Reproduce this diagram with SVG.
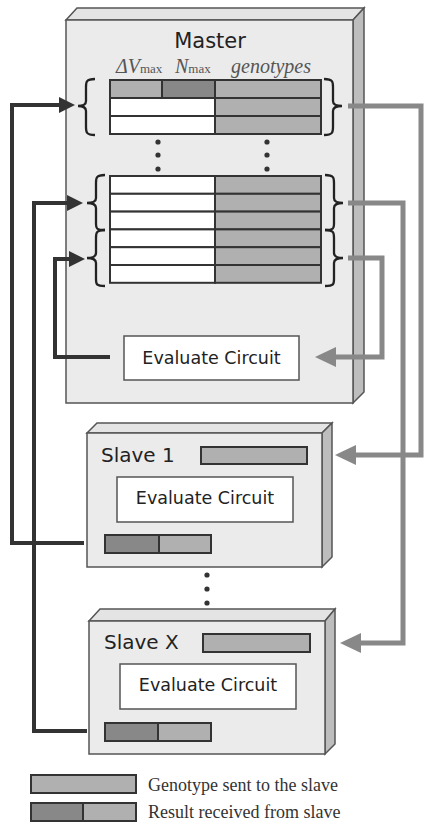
<svg xmlns="http://www.w3.org/2000/svg" width="425" height="823" viewBox="0 0 425 823">
<style>
.face{fill:#ebebeb;stroke:#555;stroke-width:1.5}
.top{fill:#e4e4e4;stroke:#555;stroke-width:1.5}
.side{fill:#bdbdbd;stroke:#555;stroke-width:1.5}
.cell{stroke:#333;stroke-width:2}
.w{fill:#fff}
.g{fill:#b0b0b0}
.d{fill:#888}
.box{fill:#fff;stroke:#555;stroke-width:1.5}
.brace{fill:none;stroke:#222;stroke-width:2.3}
.lbl{font-family:"DejaVu Sans",sans-serif;fill:#222}
.hdr{font-family:"Liberation Serif",serif;font-style:italic;fill:#555}
.leg{font-family:"Liberation Serif",serif;font-size:18px;fill:#333}
.dark{fill:none;stroke:#333;stroke-width:4}
.gray{fill:none;stroke:#888;stroke-width:5}
.dot{fill:#333}
</style>
<defs>
<marker id="ad" markerUnits="userSpaceOnUse" markerWidth="17" markerHeight="16" refX="1" refY="8" orient="auto"><path d="M0,0 L16,8 L0,16 z" fill="#333"/></marker>
<marker id="ag" markerUnits="userSpaceOnUse" markerWidth="22" markerHeight="20" refX="1" refY="10" orient="auto"><path d="M0,0 L21,10 L0,20 z" fill="#888"/></marker>
</defs>

<g id="master">
<polygon class="top" points="66,20 77,8 364,8 353,20"/>
<polygon class="side" points="353,20 364,8 364,392 353,403"/>
<rect class="face" x="66" y="20" width="287" height="383"/>
<text class="lbl" x="210" y="48" font-size="21" text-anchor="middle">Master</text>
<text class="hdr" x="116" y="73" font-size="20">ΔV<tspan font-size="13" font-style="normal">max</tspan></text>
<text class="hdr" x="175" y="73" font-size="20">N<tspan font-size="13" font-style="normal">max</tspan></text>
<text class="hdr" x="231" y="73" font-size="20">genotypes</text>
<g id="table1">
<rect class="cell g" x="110" y="80" width="52" height="18" fill="#a8a8a8"/>
<rect class="cell d" x="162" y="80" width="53" height="18"/>
<rect class="cell g" x="215" y="80" width="106" height="18"/>
<rect class="cell w" x="110" y="98" width="105" height="18"/>
<rect class="cell g" x="215" y="98" width="106" height="18"/>
<rect class="cell w" x="110" y="116" width="105" height="18"/>
<rect class="cell g" x="215" y="116" width="106" height="18"/>
</g>
<path class="brace" d="M95,79 C86,79 86,82 86,87 V101 C86,104 84,106 78,106 C84,106 86,108 86,111 V127 C86,132 86,135 95,135"/>
<path class="brace" d="M324,79 C333,79 333,82 333,87 V101 C333,104 335,106 342,106 C335,106 333,108 333,111 V127 C333,132 333,135 324,135"/>
<circle class="dot" cx="158" cy="142" r="2.6"/>
<circle class="dot" cx="158" cy="155" r="2.6"/>
<circle class="dot" cx="158" cy="169" r="2.6"/>
<circle class="dot" cx="267" cy="142" r="2.6"/>
<circle class="dot" cx="267" cy="155" r="2.6"/>
<circle class="dot" cx="267" cy="169" r="2.6"/>
<g id="table2">
<rect class="cell w" x="110" y="176" width="105" height="17.8"/>
<rect class="cell g" x="215" y="176" width="106" height="17.8"/>
<rect class="cell w" x="110" y="193.8" width="105" height="17.8"/>
<rect class="cell g" x="215" y="193.8" width="106" height="17.8"/>
<rect class="cell w" x="110" y="211.6" width="105" height="17.8"/>
<rect class="cell g" x="215" y="211.6" width="106" height="17.8"/>
<rect class="cell w" x="110" y="229.4" width="105" height="17.8"/>
<rect class="cell g" x="215" y="229.4" width="106" height="17.8"/>
<rect class="cell w" x="110" y="247.2" width="105" height="17.8"/>
<rect class="cell g" x="215" y="247.2" width="106" height="17.8"/>
<rect class="cell w" x="110" y="265" width="105" height="17.8"/>
<rect class="cell g" x="215" y="265" width="106" height="17.8"/>
</g>
<path class="brace" d="M105,175 C96,175 96,178 96,183 V198 C96,201 94,203 87,203 C94,203 96,205 96,208 V224 C96,228 96,230 105,230"/>
<path class="brace" d="M105,230 C96,230 96,233 96,238 V253 C96,256 94,258 87,258 C94,258 96,260 96,263 V279 C96,284 96,286 105,286"/>
<path class="brace" d="M325,175 C334,175 334,178 334,183 V198 C334,201 336,203 343,203 C336,203 334,205 334,208 V224 C334,228 334,230 325,230"/>
<path class="brace" d="M325,230 C334,230 334,233 334,238 V253 C334,256 336,258 343,258 C336,258 334,260 334,263 V279 C334,284 334,286 325,286"/>
<g id="master-eval">
<rect class="box" x="124" y="336" width="175" height="44"/>
<text class="lbl" x="211.5" y="364" font-size="17.5" text-anchor="middle">Evaluate Circuit</text>
</g>
</g>

<g id="slave1">
<polygon class="top" points="87,433 97,423 332,423 322,433"/>
<polygon class="side" points="322,433 332,423 332,557 322,567"/>
<rect class="face" x="87" y="433" width="235" height="134"/>
<text class="lbl" x="101" y="462" font-size="20">Slave 1</text>
<rect class="cell g" x="201" y="447" width="106" height="17"/>
<rect class="box" x="117" y="477" width="176" height="45"/>
<text class="lbl" x="205" y="504" font-size="17.5" text-anchor="middle">Evaluate Circuit</text>
<rect class="cell d" x="105" y="535" width="54" height="18"/>
<rect class="cell g" x="159" y="535" width="52" height="18"/>
</g>

<g id="slave-dots">
<circle class="dot" cx="207" cy="575" r="2.6"/>
<circle class="dot" cx="207" cy="589" r="2.6"/>
<circle class="dot" cx="207" cy="603" r="2.6"/>
</g>

<g id="slaveX">
<polygon class="top" points="89,621 100,609 335,609 325,621"/>
<polygon class="side" points="325,621 335,609 335,744 325,754"/>
<rect class="face" x="89" y="621" width="236" height="133"/>
<text class="lbl" x="104" y="649" font-size="20">Slave X</text>
<rect class="cell g" x="203" y="634" width="107" height="18"/>
<rect class="box" x="120" y="664" width="176" height="45"/>
<text class="lbl" x="208" y="691" font-size="17.5" text-anchor="middle">Evaluate Circuit</text>
<rect class="cell d" x="105" y="723" width="53" height="18"/>
<rect class="cell g" x="158" y="723" width="53" height="18"/>
</g>

<g id="connectors">
<path class="dark" d="M84,543 H12 V105 H60" marker-end="url(#ad)"/>
<path class="dark" d="M87,731 H34 V203 H68" marker-end="url(#ad)"/>
<path class="dark" d="M110,357 H55 V259 H70" marker-end="url(#ad)"/>
<path class="gray" d="M348,106 H421 V455 H355" marker-end="url(#ag)"/>
<path class="gray" d="M348,203 H403 V643 H360" marker-end="url(#ag)"/>
<path class="gray" d="M348,258 H382 V357 H335" marker-end="url(#ag)"/>
</g>

<g id="legend">
<rect class="cell g" x="31" y="775" width="105" height="18"/>
<text class="leg" x="148" y="791">Genotype sent to the slave</text>
<rect class="cell d" x="31" y="803" width="52" height="18"/>
<rect class="cell g" x="83" y="803" width="53" height="18"/>
<text class="leg" x="148" y="818">Result received from slave</text>
</g>
</svg>
